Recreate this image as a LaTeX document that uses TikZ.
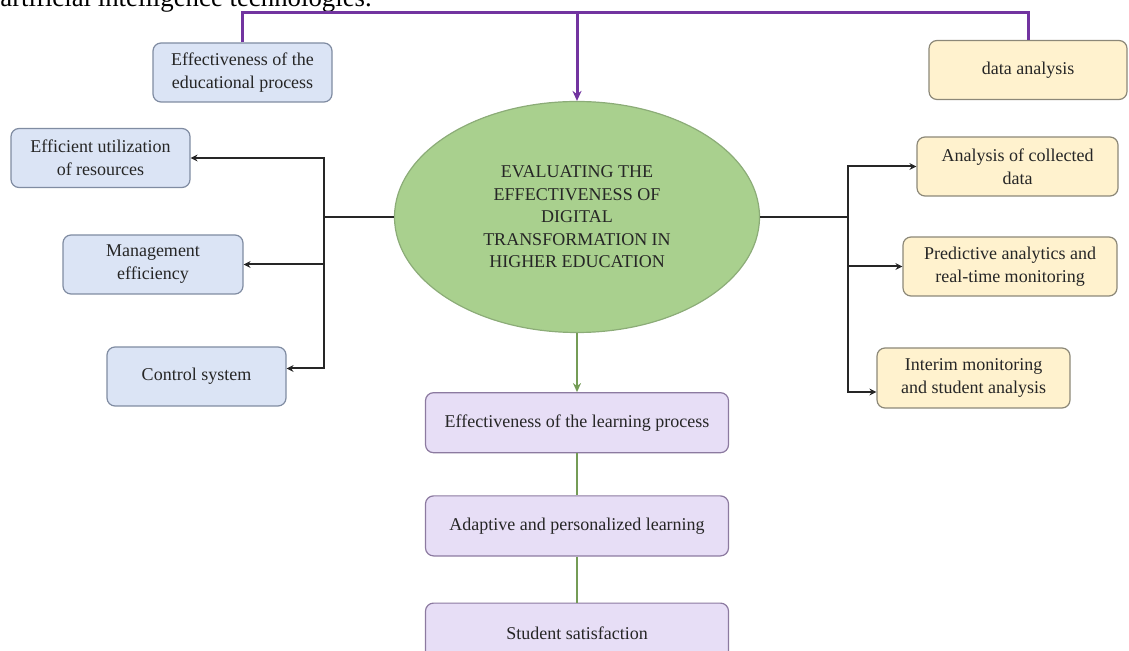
\documentclass[tikz,border=0pt]{standalone}
\usepackage{fontspec}
\setmainfont{Liberation Serif}
\usepackage{tikz}
\usetikzlibrary{positioning}
\usetikzlibrary{shapes.geometric}
\usetikzlibrary{arrows.meta}
\usepackage{xcolor}

\definecolor{blueFill}{RGB}{219,228,245}
\definecolor{blueDraw}{RGB}{128,140,162}
\definecolor{yellowFill}{RGB}{255,242,206}
\definecolor{yellowDraw}{RGB}{140,136,120}
\definecolor{lilacFill}{RGB}{231,222,246}
\definecolor{lilacDraw}{RGB}{140,122,160}
\definecolor{goalFill}{RGB}{169,208,142}
\definecolor{goalDraw}{RGB}{140,172,120}
\definecolor{railPurple}{RGB}{114,52,160}
\definecolor{lineGreen}{RGB}{116,156,86}

\begin{document}
\begin{tikzpicture}[
		% Style definitions - one unit is half a point, y runs down
		x=0.5pt, y=-0.5pt,
		basebox/.style={draw, rounded corners=4pt, line width=0.6pt, minimum height=29.5pt, inner sep=2pt, align=center, font=\fontsize{9}{11.5}\selectfont, text=black!85},
		bluebox/.style={basebox, draw=blueDraw, fill=blueFill},
		yellowbox/.style={basebox, draw=yellowDraw, fill=yellowFill},
		lilacbox/.style={basebox, draw=lilacDraw, fill=lilacFill, minimum width=151.5pt, minimum height=30pt},
		goal/.style={ellipse, draw=goalDraw, line width=0.6pt, fill=goalFill, minimum width=182.5pt, minimum height=115.5pt, inner sep=0pt, align=center, font=\fontsize{9}{11.25}\selectfont, text=black!85},
		link/.style={line width=1pt, black!85},
		arrow/.style={link, -{Stealth[length=3.5pt, width=3.5pt]}},
		rail/.style={line width=1.5pt, railPurple},
		greenline/.style={line width=0.8pt, lineGreen},
		% Uniform spacing of the bottom column
		node distance=21pt,
		]
		\useasboundingbox (0,0) rectangle (1129,651);
		\clip (0,0) rectangle (1129,651);

		% Running text of the page, cut at the top
		\node[anchor=base west, inner sep=0pt, font=\fontsize{13.4}{16}\selectfont] (lead) at (0,7) {artificial intelligence technologies.};

		% Centre: the main goal
		\node[goal] (goal) at (577,217) {EVALUATING THE\\EFFECTIVENESS OF\\DIGITAL\\TRANSFORMATION IN\\HIGHER EDUCATION};

		% Top row
		\node[bluebox, minimum width=89.5pt] (edu) at (242.5,72.5) {Effectiveness of the\\educational process};
		\node[yellowbox, minimum width=99pt] (data) at (1028,70) {data analysis};

		% Left column
		\node[bluebox, minimum width=89.5pt] (util) at (100.5,158) {Efficient utilization\\of resources};
		\node[bluebox, minimum width=90pt] (mgmt) at (153,264.5) {Management\\efficiency};
		\node[bluebox, minimum width=89.5pt] (ctrl) at (196.5,376.5) {Control system};

		% Right column
		\node[yellowbox, minimum width=100.5pt] (collected) at (1017.5,166.5) {Analysis of collected\\data};
		\node[yellowbox, minimum width=107pt] (predict) at (1010,266.5) {Predictive analytics and\\real-time monitoring};
		\node[yellowbox, minimum width=96.5pt, minimum height=30pt] (interim) at (973.5,378) {Interim monitoring\\and student analysis};

		% Bottom column
		\node[lilacbox, below=29.5pt of goal] (learning) {Effectiveness of the learning process};
		\node[lilacbox, below=of learning] (adaptive) {Adaptive and personalized learning};
		\node[lilacbox, below=23pt of adaptive] (satisfaction) {Student satisfaction};

		% Branch points
		\coordinate (lbus) at (324,217);
		\coordinate (rbus) at (848,217);
		\coordinate (top) at (0,13);

		% Purple rail over the top
		\draw[rail] (edu.north) -- (edu.north |- top) -- (data.north |- top) -- (data.north);
		\draw[rail, -{Stealth[length=5pt, width=4.5pt]}] (goal.north |- top) -- (goal.north);

		% Left branches
		\draw[link] (goal.west) -- (lbus);
		\draw[arrow] (lbus) |- (util.east);
		\draw[arrow] (lbus) |- (mgmt.east);
		\draw[arrow] (lbus) |- ([yshift=4pt]ctrl.east);

		% Right branches
		\draw[link] (goal.east) -- (rbus);
		\draw[arrow] (rbus) |- (collected.west);
		\draw[arrow] (rbus) |- (predict.west);
		\draw[arrow] (rbus) |- ([yshift=-7pt]interim.west);

		% Down the bottom column
		\draw[greenline, -{Stealth[length=4.5pt, width=4pt]}] (goal.south) -- (learning.north);
		\draw[greenline] (learning) -- (adaptive);
		\draw[greenline] (adaptive) -- (satisfaction);

	\end{tikzpicture}
\end{document}
